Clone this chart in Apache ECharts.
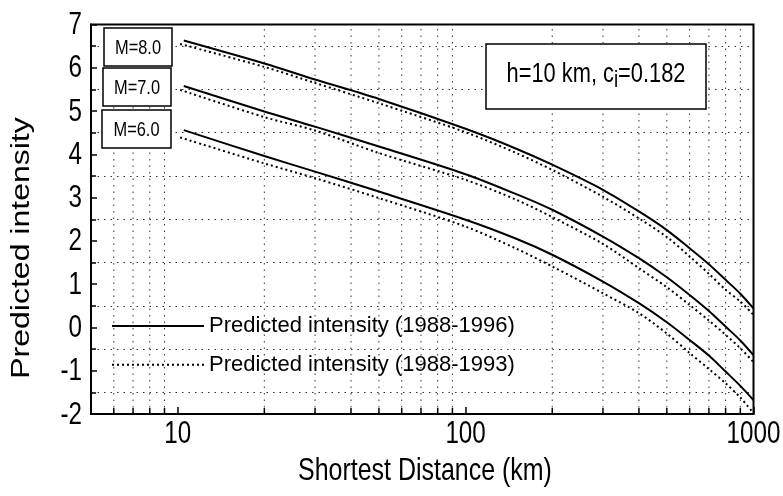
<!DOCTYPE html>
<html><head><meta charset="utf-8">
<script src="https://cdn.jsdelivr.net/npm/echarts@6/dist/echarts.min.js"></script>
<style>html,body{margin:0;padding:0;background:#fff}#c{width:783px;height:496px}</style>
</head><body><div id="c"></div>
<script>
// ---- data ----
const distSolid  = [10.5, 20, 30, 50, 100, 150, 200, 300, 400, 500, 600, 700, 800, 900, 1000];
const distDotted = [10.2, 20, 30, 50, 100, 150, 200, 300, 400, 500, 600, 700, 800, 900, 1000];
const solidM8  = [6.63, 6.10, 5.73, 5.28, 4.59, 4.13, 3.76, 3.18, 2.68, 2.25, 1.83, 1.46, 1.10, 0.78, 0.44];
const dottedM8 = [6.55, 6.02, 5.65, 5.18, 4.51, 4.03, 3.64, 3.02, 2.52, 2.09, 1.64, 1.24, 0.87, 0.60, 0.29];
const solidM7  = [5.58, 4.99, 4.64, 4.18, 3.54, 3.08, 2.72, 2.10, 1.60, 1.16, 0.75, 0.38, 0.02, -0.30, -0.64];
const dottedM7 = [5.49, 4.86, 4.55, 4.03, 3.41, 2.95, 2.55, 1.93, 1.37, 0.93, 0.52, 0.16, -0.17, -0.48, -0.80];
const solidM6  = [4.56, 3.96, 3.60, 3.14, 2.49, 2.05, 1.68, 1.06, 0.56, 0.12, -0.29, -0.65, -1.02, -1.35, -1.68];
const dottedM6 = [4.39, 3.79, 3.45, 2.99, 2.33, 1.82, 1.41, 0.79, 0.33, -0.14, -0.59, -0.96, -1.29, -1.62, -1.98];
const minorX = [6, 7, 8, 9, 20, 30, 40, 50, 60, 70, 80, 90, 200, 300, 400, 500, 600, 700, 800, 900];
const xTickLabels = [10, 100, 1000];
const yTickLabels = [-2, -1, 0, 1, 2, 3, 4, 5, 6, 7];
const magLabels = ['M=8.0', 'M=7.0', 'M=6.0'];
const nameSolid = 'Predicted intensity (1988-1996)';
const nameDotted = 'Predicted intensity (1988-1993)';
const xTitle = 'Shortest Distance (km)';
const yTitle = 'Predicted intensity';

const F = '"Liberation Sans", Arial, sans-serif';
const SX = 0.78; // horizontal condensation of the reference lettering
const mctx = document.createElement('canvas').getContext('2d');
function tw(t, size){ mctx.font = size + 'px ' + F; return mctx.measureText(t).width; }

const toPairs = (xs, ys) => xs.map((x, i) => [x, ys[i]]);
const solidStyle = {color:'#000', width:2, type:'solid'};
const dotStyle = {color:'#000', width:2, type:[2,3]};
function mk(name, xs, ys, style){
  return {type:'line', name, data: toPairs(xs, ys), showSymbol:false, symbol:'none', smooth:0.3,
    lineStyle: style, itemStyle:{color:'#000'}, z:3, silent:true, animation:false};
}
function txt(x, y, text, size, align, valign, extra){
  return Object.assign({type:'text', x, y, scaleX:SX,
    style:{text, font:size+'px '+F, fill:'#000', align, verticalAlign:valign, textAlign:align, textVerticalAlign:valign}}, extra||{});
}

const chart = echarts.init(document.getElementById('c'), null, {renderer:'canvas'});

// annotation text layout
const aSize = 28, sSize = 24;
const p1 = 'h=10 km, c', p2 = 'i', p3 = '=0.182';
const w1 = tw(p1, aSize)*SX, w2 = tw(p2, sSize)*SX, w3 = tw(p3, aSize)*SX;
const ax0 = 596 - (w1 + w2 + w3) / 2;

const boxes = [[104,28,68,38],[103,68,68,38],[102,110,69,38]];
const graphics = [];
boxes.forEach((b, i) => {
  graphics.push({type:'rect', z:10, shape:{x:b[0], y:b[1], width:b[2], height:b[3]},
    style:{fill:'#fff', stroke:'#000', lineWidth:1.5}});
  graphics.push(txt(b[0]+b[2]/2, b[1]+b[3]/2+1, magLabels[i], 21, 'center', 'middle', {z:11}));
});
graphics.push({type:'rect', z:10, shape:{x:486, y:44, width:220, height:65}, style:{fill:'#fff', stroke:'#000', lineWidth:1.5}});
graphics.push(txt(ax0, 74, p1, aSize, 'left', 'middle', {z:11}));
graphics.push(txt(ax0+w1, 80, p2, sSize, 'left', 'middle', {z:11}));
graphics.push(txt(ax0+w1+w2, 74, p3, aSize, 'left', 'middle', {z:11}));
graphics.push(txt(425, 471, xTitle, 32, 'center', 'middle', {z:11}));
graphics.push({type:'text', z:11, x:22, y:248, rotation:Math.PI/2, scaleY:SX,
  style:{text:yTitle, font:'32px '+F, fill:'#000', align:'center', verticalAlign:'middle', textAlign:'center', textVerticalAlign:'middle'}});

const option = {
  animation:false,
  backgroundColor:'#fff',
  grid:{left:91, right:29.5, top:24.5, bottom:82, show:true, borderColor:'#000', borderWidth:2, backgroundColor:'transparent'},
  legend:{
    data:[nameSolid, nameDotted], orient:'vertical', left:111, top:311, padding:0,
    itemWidth:92, itemHeight:14, itemGap:8.7,
    itemStyle:{color:'rgba(0,0,0,0)', borderColor:'rgba(0,0,0,0)', borderWidth:0},
    textStyle:{fontFamily:F, fontSize:22, color:'#000', lineHeight:30}
  },
  xAxis:{
    type:'log', logBase:10, min:5, max:1000,
    axisLine:{show:true, onZero:false, lineStyle:{color:'#000', width:2}},
    axisTick:{show:true, inside:true, length:7, lineStyle:{color:'#000', width:1.5}},
    axisLabel:{show:false},
    splitLine:{show:false}
  },
  yAxis:{
    type:'value', min:-2, max:7, interval:1,
    axisLine:{show:true, lineStyle:{color:'#000', width:2}},
    axisTick:{show:true, inside:true, length:6, lineStyle:{color:'#000', width:1.5}},
    minorTick:{show:true, splitNumber:2, length:5, lineStyle:{color:'#000', width:1.5}},
    minorSplitLine:{show:true, lineStyle:{color:'#333', width:1, type:[1.5,5]}},
    splitLine:{show:false},
    axisLabel:{show:false}
  },
  graphic: graphics,
  series:[
    {type:'custom', name:'grid', silent:true, z:1, animation:false, clip:false,
      data: minorX.map(v => [v, -2]),
      encode:{x:0, y:1},
      renderItem: (params, api) => {
        const v = api.value(0);
        const b = api.coord([v, -2]);
        const t = api.coord([v, 7]);
        return {type:'group', children:[
          {type:'line', shape:{x1:b[0], y1:b[1], x2:t[0], y2:t[1]}, style:{stroke:'#333', lineWidth:1, lineDash:[1.5,5]}},
          {type:'line', shape:{x1:b[0], y1:b[1], x2:b[0], y2:b[1]-6}, style:{stroke:'#000', lineWidth:1.5}}
        ]};
      }
    },
    {type:'custom', name:'xlabels', silent:true, z:5, animation:false, clip:false,
      data: xTickLabels.map(v => [v, -2]),
      encode:{x:0, y:1},
      renderItem: (params, api) => {
        const v = api.value(0);
        const p = api.coord([v, -2]);
        return txt(p[0], p[1]+5, String(v), 31, 'center', 'top');
      }
    },
    {type:'custom', name:'ylabels', silent:true, z:5, animation:false, clip:false,
      data: yTickLabels.map(v => [5, v]),
      encode:{x:0, y:1},
      renderItem: (params, api) => {
        const v = api.value(1);
        const p = api.coord([5, v]);
        return txt(p[0]-9, p[1]+1, String(v), 31, 'right', 'middle');
      }
    },
    mk(nameSolid, distSolid, solidM8, solidStyle),
    mk(nameSolid, distSolid, solidM7, solidStyle),
    mk(nameSolid, distSolid, solidM6, solidStyle),
    mk(nameDotted, distDotted, dottedM8, dotStyle),
    mk(nameDotted, distDotted, dottedM7, dotStyle),
    mk(nameDotted, distDotted, dottedM6, dotStyle)
  ]
};
chart.setOption(option);
</script></body></html>
